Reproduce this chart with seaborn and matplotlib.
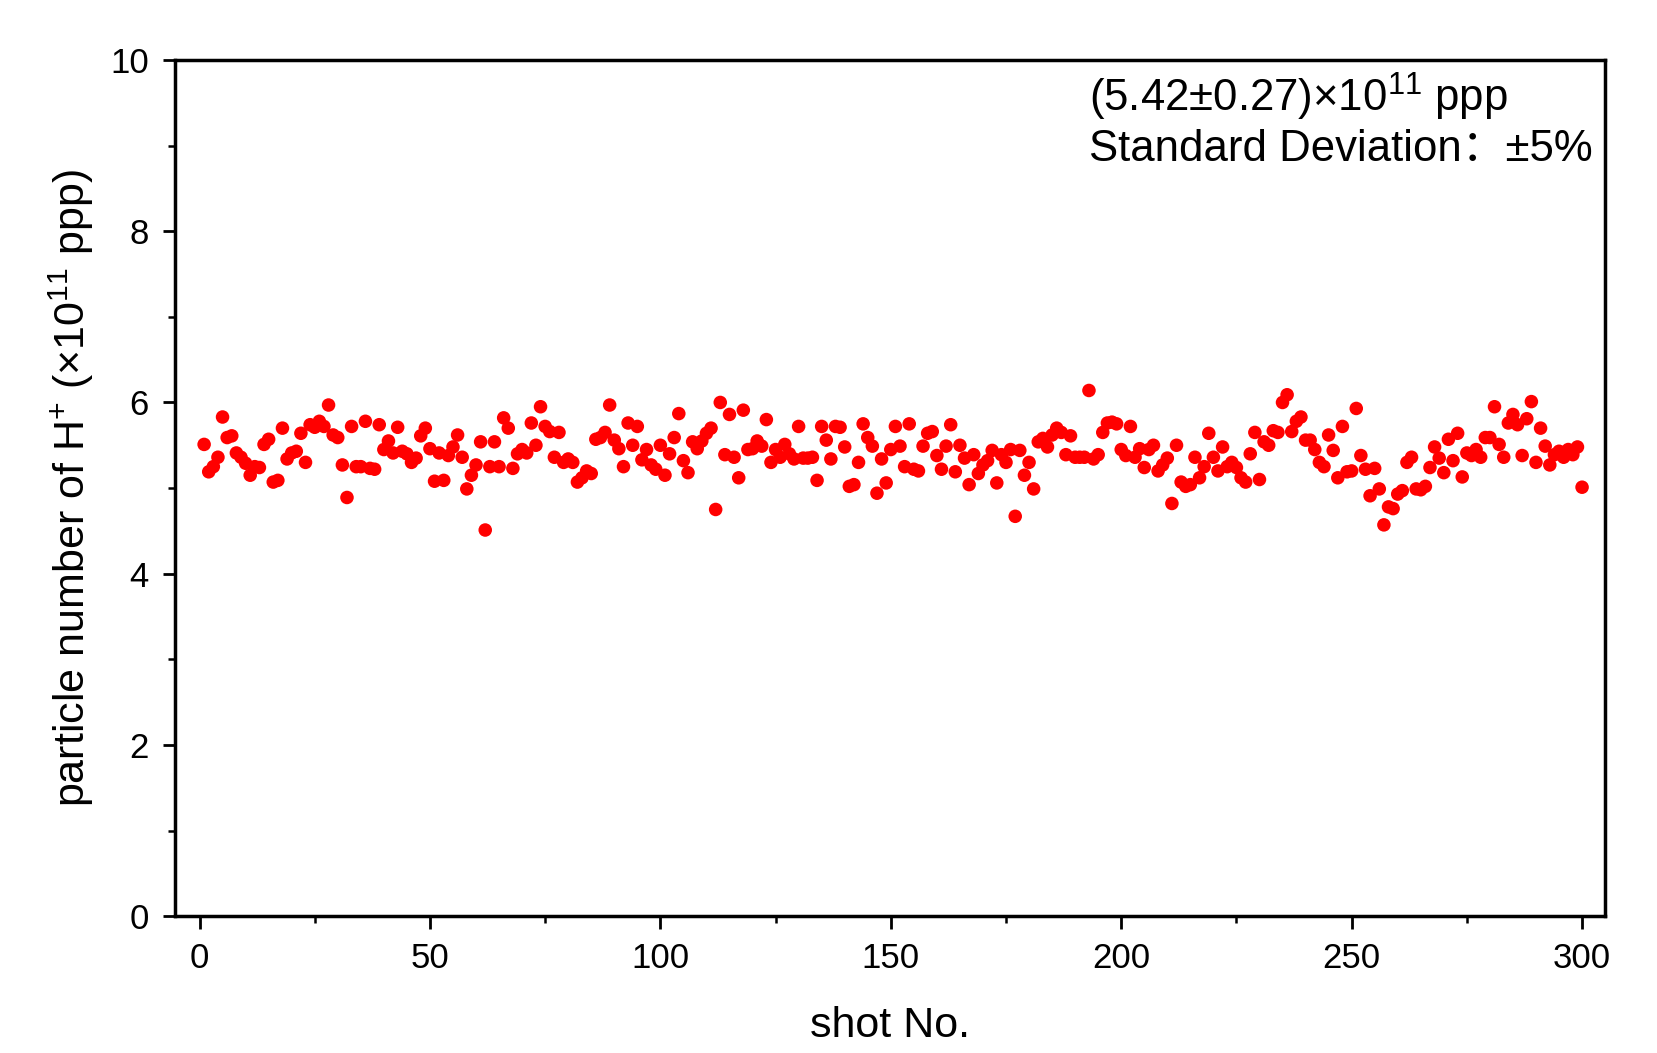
import numpy as np
import pandas as pd
import matplotlib
matplotlib.use("Agg")
import matplotlib.pyplot as plt
import seaborn as sns
from matplotlib.ticker import MultipleLocator

values = [
    5.51, 5.19, 5.25, 5.36, 5.83, 5.59, 5.61, 5.41, 5.36, 5.29,
    5.15, 5.25, 5.24, 5.51, 5.57, 5.07, 5.09, 5.70, 5.34, 5.41,
    5.43, 5.64, 5.30, 5.74, 5.71, 5.78, 5.72, 5.97, 5.62, 5.59,
    5.27, 4.89, 5.72, 5.25, 5.25, 5.78, 5.23, 5.22, 5.74, 5.45,
    5.55, 5.41, 5.71, 5.43, 5.40, 5.30, 5.35, 5.61, 5.70, 5.46,
    5.08, 5.41, 5.09, 5.38, 5.48, 5.62, 5.36, 4.99, 5.15, 5.27,
    5.54, 4.51, 5.25, 5.54, 5.25, 5.82, 5.70, 5.23, 5.40, 5.45,
    5.41, 5.76, 5.50, 5.95, 5.72, 5.66, 5.36, 5.65, 5.30, 5.34,
    5.30, 5.07, 5.12, 5.20, 5.17, 5.57, 5.59, 5.65, 5.97, 5.56,
    5.46, 5.25, 5.76, 5.50, 5.72, 5.33, 5.45, 5.27, 5.22, 5.50,
    5.15, 5.40, 5.59, 5.87, 5.32, 5.18, 5.54, 5.46, 5.55, 5.64,
    5.70, 4.75, 6.00, 5.39, 5.86, 5.36, 5.12, 5.91, 5.45, 5.46,
    5.55, 5.49, 5.80, 5.30, 5.45, 5.36, 5.51, 5.40, 5.34, 5.72,
    5.35, 5.35, 5.36, 5.09, 5.72, 5.56, 5.34, 5.72, 5.71, 5.48,
    5.02, 5.04, 5.30, 5.75, 5.59, 5.49, 4.94, 5.34, 5.06, 5.45,
    5.72, 5.49, 5.25, 5.75, 5.22, 5.20, 5.49, 5.64, 5.66, 5.38,
    5.22, 5.49, 5.74, 5.19, 5.50, 5.35, 5.04, 5.39, 5.17, 5.27,
    5.32, 5.44, 5.06, 5.39, 5.30, 5.45, 4.67, 5.44, 5.15, 5.30,
    4.99, 5.54, 5.58, 5.48, 5.62, 5.70, 5.65, 5.39, 5.61, 5.36,
    5.36, 5.36, 6.14, 5.34, 5.39, 5.65, 5.76, 5.77, 5.75, 5.45,
    5.38, 5.72, 5.36, 5.46, 5.24, 5.45, 5.50, 5.20, 5.27, 5.35,
    4.82, 5.50, 5.07, 5.02, 5.04, 5.36, 5.12, 5.25, 5.64, 5.36,
    5.20, 5.48, 5.25, 5.30, 5.24, 5.12, 5.07, 5.40, 5.65, 5.10,
    5.54, 5.50, 5.67, 5.65, 6.00, 6.09, 5.66, 5.78, 5.83, 5.56,
    5.56, 5.45, 5.30, 5.25, 5.62, 5.44, 5.12, 5.72, 5.19, 5.20,
    5.93, 5.38, 5.22, 4.91, 5.23, 4.99, 4.57, 4.78, 4.76, 4.93,
    4.97, 5.30, 5.36, 4.99, 4.98, 5.02, 5.24, 5.48, 5.35, 5.18,
    5.57, 5.32, 5.64, 5.13, 5.41, 5.38, 5.45, 5.36, 5.59, 5.59,
    5.95, 5.51, 5.36, 5.76, 5.86, 5.74, 5.38, 5.81, 6.01, 5.30,
    5.70, 5.49, 5.27, 5.39, 5.43, 5.36, 5.45, 5.39, 5.48, 5.01,
]
shots = list(range(1, len(values) + 1))

x_ticks = [0, 50, 100, 150, 200, 250, 300]
y_ticks = [0, 2, 4, 6, 8, 10]
annot_line1 = "(5.42±0.27)×10$^{11}$ ppp"
annot_line2 = "Standard Deviation：±5%"
x_label = "shot No."
y_label = "particle number of H$^{+}$ (×10$^{11}$ ppp)"

sns.set_style("ticks")
plt.rcParams['font.family'] = ['Liberation Sans', 'Noto Sans CJK SC', 'DejaVu Sans']
plt.rcParams['mathtext.fontset'] = 'custom'
plt.rcParams['mathtext.rm'] = 'Liberation Sans'
plt.rcParams['mathtext.it'] = 'Liberation Sans:italic'
plt.rcParams['mathtext.bf'] = 'Liberation Sans:bold'
plt.rcParams['text.color'] = 'black'
plt.rcParams['axes.labelcolor'] = 'black'
plt.rcParams['xtick.color'] = 'black'
plt.rcParams['ytick.color'] = 'black'

df = pd.DataFrame({"shot": shots, "value": values})

fig = plt.figure(figsize=(16.58, 10.53), dpi=100)
ax = fig.add_axes([0.1056, 0.130, 0.8625, 0.813])
sns.scatterplot(data=df, x="shot", y="value", ax=ax, color="#FF0000",
                s=95, edgecolor="none", linewidth=0)

ax.set_xlim(-5.3, 305)
ax.set_ylim(0, 10)
ax.set_xticks(x_ticks)
ax.set_yticks(y_ticks)
ax.xaxis.set_minor_locator(MultipleLocator(25))
ax.yaxis.set_minor_locator(MultipleLocator(1))
ax.tick_params(which='major', direction='out', length=9, width=2, labelsize=25, pad=10)
ax.tick_params(which='minor', direction='out', length=5, width=1.8)
for sp in ax.spines.values():
    sp.set_visible(True)
    sp.set_linewidth(2.5)
    sp.set_color("black")

ax.set_xlabel(x_label, fontsize=31, labelpad=22)
ax.set_ylabel(y_label, fontsize=31, labelpad=10)

ax.text(0.639, 0.957, annot_line1, transform=ax.transAxes, fontsize=31.5,
        va='center', ha='left')
ax.text(0.639, 0.895, annot_line2, transform=ax.transAxes, fontsize=31.5,
        va='center', ha='left')

fig.savefig("out.png", dpi=100)
